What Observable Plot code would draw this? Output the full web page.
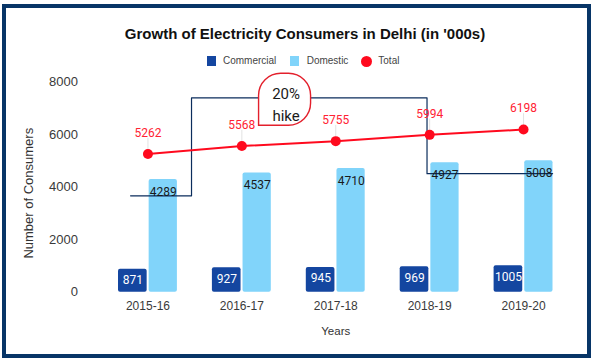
<!DOCTYPE html>
<html>
<head>
<meta charset="utf-8">
<script src="https://cdn.jsdelivr.net/npm/d3@7"></script>
<script src="https://cdn.jsdelivr.net/npm/@observablehq/plot@0.6"></script>
<style>
  html, body { margin: 0; padding: 0; background: #fff; }
  #wrap { position: relative; width: 595px; height: 363px; overflow: hidden; background: #fff; }
  #chart { position: absolute; left: 0; top: 0; }
  #border { position: absolute; left: 2px; top: 4px; width: 589px; height: 354px; box-sizing: border-box;
            border: 4.5px solid #073567; pointer-events: none; }
  #title { position: absolute; left: 0; top: 26px; width: 610px; text-align: center;
           font: bold 15px "Liberation Sans", Arial, sans-serif; line-height: 15px; color: #111; }
  .lg { position: absolute; font: 10px "Liberation Sans", Arial, sans-serif; line-height: 10px; color: #444; top: 56px; }
  .sw { position: absolute; width: 9px; height: 10px; top: 56px; }
  .dotsw { position: absolute; width: 11px; height: 11px; top: 55.5px; border-radius: 50%; }
</style>
</head>
<body>
<div id="wrap">
  <div id="chart"></div>
  <div id="title"></div>
  <div id="legend"></div>
  <div id="border"></div>
</div>
<script>
// ---- data ----
const years = ["2015-16", "2016-17", "2017-18", "2018-19", "2019-20"];
const commercial = [871, 927, 945, 969, 1005];
const domestic = [4289, 4537, 4710, 4927, 5008];
const total = [5262, 5568, 5755, 5994, 6198];
const yTicks = [0, 2000, 4000, 6000, 8000];
const seriesNames = ["Commercial", "Domestic", "Total"];
const titleText = "Growth of Electricity Consumers in Delhi (in '000s)";
const xTitle = "Years";
const yTitle = "Number of Consumers";
// annotation: bracket path (data coordinates: year index, consumers) and bubble
const bracketX = [-0.185, 0.464, 0.464, 2.972, 2.972, 4.309];
const bracketY = [3672, 3672, 7406, 7406, 4514, 4514];
const hikeX = [1.455];
const hikeY = [7352];
const hikeText = ["20%\nhike"];

// ---- colours ----
const cCom = "#1446a0", cDom = "#81d4fa", cTot = "#ff0a1e", cNavy = "#0b2d5c";

const rows = years.map((y, i) => ({i, year: y, commercial: commercial[i], domestic: domestic[i], total: total[i]}));
const bracket = bracketX.map((x, k) => ({x, y: bracketY[k]}));
const hike = hikeX.map((x, k) => ({x, y: hikeY[k], text: hikeText[k]}));

// speech-bubble symbol: rounded square with a sharp bottom-left corner
const bubble = {
  draw(ctx, size) {
    const r = Math.sqrt(size / Math.PI), c = r * 0.85;
    ctx.moveTo(-r, r);
    ctx.lineTo(r - c, r);
    ctx.arcTo(r, r, r, r - c, c);
    ctx.lineTo(r, -r + c);
    ctx.arcTo(r, -r, r - c, -r, c);
    ctx.lineTo(-r + c, -r);
    ctx.arcTo(-r, -r, -r, -r + c, c);
    ctx.closePath();
  }
};

const chart = Plot.plot({
  width: 595,
  height: 363,
  marginLeft: 100.5,
  marginRight: 25,
  marginTop: 81.7,
  marginBottom: 71.3,
  style: {fontFamily: "'Liberation Sans', Arial, sans-serif", fontSize: "12px", color: "#3a3a3a", background: "transparent"},
  x: {type: "linear", domain: [-0.5, 4.5], ticks: [0, 1, 2, 3, 4], tickFormat: i => years[i], tickSize: 0, tickPadding: 9, label: null},
  y: {domain: [0, 8000], ticks: yTicks, tickFormat: d => String(d), tickSize: 0, tickPadding: 23, label: null},
  marks: [
    Plot.rectY(rows, {x1: d => d.i - 0.5, x2: d => d.i, y: "commercial", fill: cCom, insetLeft: 17.5, insetRight: 0.8, rx: 2}),
    Plot.rectY(rows, {x1: d => d.i, x2: d => d.i + 0.5, y: "domestic", fill: cDom, insetLeft: 1.2, insetRight: 17.5, rx: 2}),
    Plot.line(bracket, {x: "x", y: "y", stroke: cNavy, strokeWidth: 1.2, curve: "linear"}),
    Plot.text(rows, {x: "i", y: "commercial", text: d => String(d.commercial), dx: -15, dy: 11, fill: "#fff", fontSize: 12, fontFamily: "Roboto, sans-serif"}),
    Plot.text(rows, {x: "i", y: "domestic", text: d => String(d.domestic), dx: 15.4, dy: 12.5, fill: "#1a1a1a", fontSize: 12, fontFamily: "Roboto, sans-serif"}),
    Plot.dot(hike, {x: "x", y: "y", r: 26, symbol: bubble, fill: "#fff", stroke: "#e3202c", strokeWidth: 1.4}),
    Plot.text(hike, {x: "x", y: "y", text: "text", dx: 1.5, dy: 3.8, lineHeight: 1.44, fontSize: 15, fill: "#1a1a1a", fontFamily: "Roboto, sans-serif"}),
    Plot.ruleX(rows, {x: "i", y1: "total", y2: d => d.total + 600, stroke: "#e2e2e2", strokeWidth: 1}),
    Plot.line(rows, {x: "i", y: "total", stroke: cTot, strokeWidth: 2}),
    Plot.dot(rows, {x: "i", y: "total", r: 5, fill: cTot}),
    Plot.text(rows, {x: "i", y: "total", text: d => String(d.total), dy: -21, fill: "#ff2233", fontSize: 12, fontFamily: "Roboto, sans-serif"}),
    Plot.text([xTitle], {frameAnchor: "bottom", dy: 43, fontSize: 11.5, fill: "#333"}),
    Plot.text([yTitle], {frameAnchor: "left", textAnchor: "middle", rotate: -90, dx: -72, dy: 6, fontSize: 13, fill: "#333"})
  ]
});
document.getElementById("chart").appendChild(chart);
// y tick labels slightly larger, as in the reference
chart.querySelectorAll('g[aria-label="y-axis tick label"] text, g[aria-label="y-axis"] text').forEach(t => t.setAttribute("font-size", 13));

document.getElementById("title").textContent = titleText;

// legend
const legend = document.getElementById("legend");
const lgItems = [
  {name: seriesNames[0], color: cCom, kind: "sw", sx: 207.3, tx: 223},
  {name: seriesNames[1], color: cDom, kind: "sw", sx: 289.5, tx: 306.7},
  {name: seriesNames[2], color: cTot, kind: "dotsw", sx: 361, tx: 378.3}
];
for (const it of lgItems) {
  const s = document.createElement("div");
  s.className = it.kind;
  s.style.left = it.sx + "px";
  s.style.background = it.color;
  legend.appendChild(s);
  const t = document.createElement("div");
  t.className = "lg";
  t.style.left = it.tx + "px";
  t.textContent = it.name;
  legend.appendChild(t);
}
</script>
</body>
</html>
